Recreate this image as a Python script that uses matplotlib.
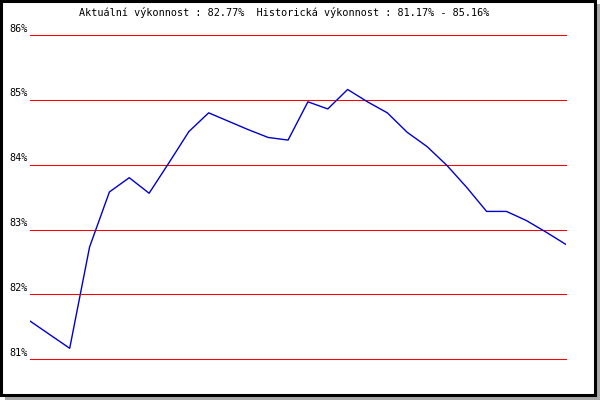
import matplotlib.pyplot as plt
from matplotlib.patches import Rectangle

# performance values (%), one per sample
values = [81.59, 81.38, 81.17, 82.73, 83.58, 83.80, 83.56, 84.03, 84.51, 84.80,
          84.67, 84.54, 84.42, 84.38, 84.97, 84.86, 85.16, 84.97, 84.80, 84.50,
          84.28, 83.99, 83.65, 83.28, 83.28, 83.14, 82.96, 82.77]
levels = [81, 82, 83, 84, 85, 86]
level_labels = ["81%", "82%", "83%", "84%", "85%", "86%"]
title = "Aktuální výkonnost : 82.77%  Historická výkonnost : 81.17% - 85.16%"

W, H = 600, 400
fig = plt.figure(figsize=(6, 4), dpi=100)
fig.patch.set_facecolor("white")

# frame + shadow
fig.patches.append(Rectangle((596 / W, 0), 4 / W, 396 / H, transform=fig.transFigure,
                             facecolor="#a9a9a9", edgecolor="none"))
fig.patches.append(Rectangle((5 / W, 0), 595 / W, 4 / H, transform=fig.transFigure,
                             facecolor="#a9a9a9", edgecolor="none"))
fig.patches.append(Rectangle((1 / W, 5 / H), 594 / W, 394 / H, transform=fig.transFigure,
                             facecolor="none", edgecolor="black", linewidth=2.2))

ax = fig.add_axes([30 / W, (H - 359.3) / H, 536 / W, 324.3 / H])
ax.set_xlim(0, len(values) - 1)
ax.set_ylim(levels[0], levels[-1])
ax.axis("off")

for lv in levels:
    ax.axhline(lv, color="#ff0000", linewidth=0.75, zorder=1,
               clip_on=False, snap=True)

ax.plot(range(len(values)), values, color="#0000cc", linewidth=1.0, zorder=2)

for lv, lab in zip(levels, level_labels):
    ax.text(-0.004, lv + 0.1, lab, transform=ax.get_yaxis_transform(),
            ha="right", va="center", fontsize=7.3, family="DejaVu Sans Mono")

fig.text(284 / W, 1 - 13 / H, title, ha="center", va="center",
         fontsize=7.3, family="DejaVu Sans Mono")

fig.savefig("out.png", dpi=100)
